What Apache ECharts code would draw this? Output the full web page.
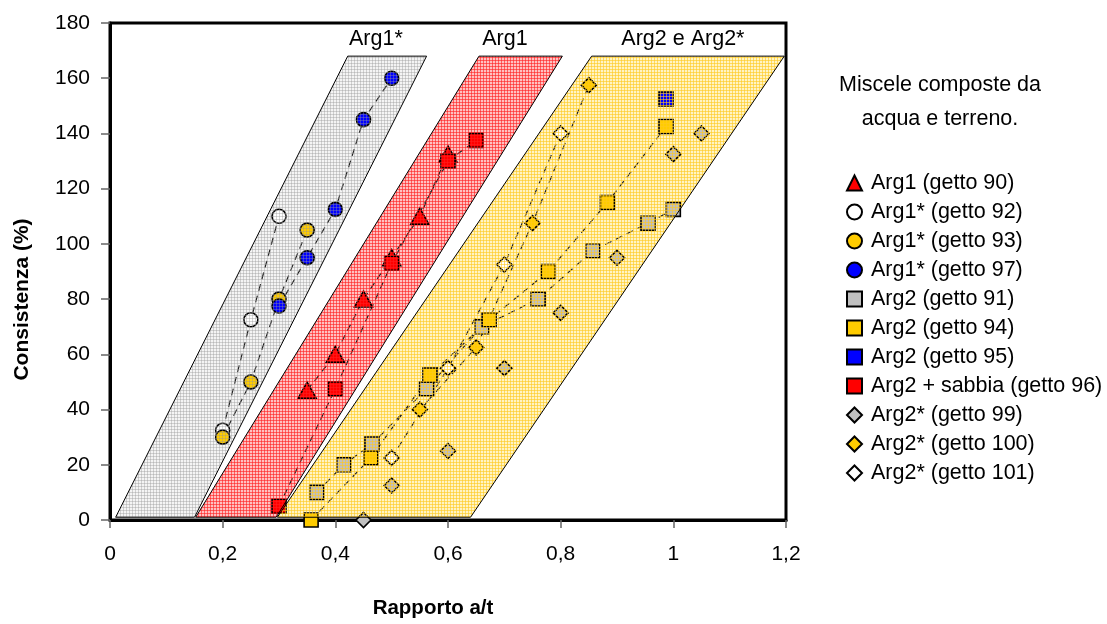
<!DOCTYPE html>
<html>
<head>
<meta charset="utf-8">
<title>Consistenza / Rapporto a/t</title>
<script src="https://cdn.jsdelivr.net/npm/echarts@6/dist/echarts.min.js"></script>
<style>
  html, body { margin: 0; padding: 0; background: #fff; }
  #chart { width: 1107px; height: 624px; }
</style>
</head>
<body>
<div id="chart"></div>
<script>
// ---- measured points: [rapporto a/t, consistenza %] ----
const arg1_g90    = [[0.35, 47], [0.40, 60], [0.45, 80], [0.50, 95], [0.55, 110], [0.60, 132.5]];
const arg1s_g92   = [[0.20, 32.5], [0.25, 72.5], [0.30, 110]];
const arg1s_g93   = [[0.20, 30], [0.25, 50], [0.30, 80], [0.35, 105]];
const arg1s_g97   = [[0.30, 77.5], [0.35, 95], [0.40, 112.5], [0.45, 145], [0.50, 160]];
const arg2_g91    = [[0.367, 10], [0.415, 20], [0.465, 27.5], [0.562, 47.5], [0.66, 70], [0.76, 80], [0.857, 97.5], [0.955, 107.5], [1.0, 112.5]];
const arg2_g94    = [[0.357, 0], [0.463, 22.5], [0.568, 52.5], [0.673, 72.5], [0.778, 90], [0.883, 115], [0.987, 142.5]];
const arg2_g95    = [[0.987, 152.5]];
const arg2sab_g96 = [[0.30, 5], [0.40, 47.5], [0.50, 93], [0.60, 130], [0.65, 137.5]];
const arg2s_g99   = [[0.45, 0], [0.50, 12.5], [0.60, 25], [0.70, 55], [0.80, 75], [0.90, 95], [1.00, 132.5], [1.05, 140]];
const arg2s_g100  = [[0.55, 40], [0.65, 62.5], [0.75, 107.5], [0.85, 157.5]];
const arg2s_g101  = [[0.50, 22.5], [0.60, 55], [0.70, 92.5], [0.80, 140]];

// ---- soil class bands (corners of each parallelogram) ----
const zoneArg1s = [[0.010, 1], [0.150, 1], [0.562, 168], [0.422, 168]];
const zoneArg1  = [[0.152, 1], [0.295, 1], [0.803, 168], [0.655, 168]];
const zoneArg2  = [[0.297, 1], [0.640, 1], [1.197, 168], [0.855, 168]];
const zoneTitles   = ['Arg1*', 'Arg1', 'Arg2 e Arg2*'];
const zoneTitlePos = [[0.472, 174], [0.701, 174], [1.017, 174]];

// ---- axes ----
const xTicks = { min: 0, max: 1.2, step: 0.2 };
const yTicks = { min: 0, max: 180, step: 20 };
const legendHeader = ['Miscele composte da', 'acqua e terreno.'];

// ---- fonts: condensed face when available ----
function hasFont(name) {
  const ctx = document.createElement('canvas').getContext('2d');
  const s = 'abcdefghijklmnopqrstuvwxyzABCDEFGH0123456789';
  ctx.font = '40px monospace';
  const a = ctx.measureText(s).width;
  ctx.font = '40px "' + name + '", monospace';
  const b = ctx.measureText(s).width;
  return Math.abs(a - b) > 0.5;
}
const narrow = hasFont('Liberation Sans Narrow');
const FONT = narrow ? '"Liberation Sans Narrow", "Liberation Sans", Arial, sans-serif'
                    : '"Liberation Sans", Arial, sans-serif';
const SZ_TICK   = narrow ? 25 : 21;
const SZ_LEGEND = narrow ? 26 : 21.5;
const SZ_ZONE   = narrow ? 26 : 21.5;
const SZ_XNAME  = narrow ? 25 : 20.5;
const YNAME_FONT = '"Liberation Sans", Arial, sans-serif';

// ---- fill patterns ----
function gridTile(bg, line) {
  const c = document.createElement('canvas');
  c.width = 3; c.height = 3;
  const g = c.getContext('2d');
  if (bg) { g.fillStyle = bg; g.fillRect(0, 0, 3, 3); }
  g.fillStyle = line;
  g.fillRect(0, 0, 3, 1);
  g.fillRect(0, 0, 1, 3);
  return { image: c, repeat: 'repeat' };
}

const zones = [
  { pts: zoneArg1s, base: '#f4f4f4', line: 'rgba(150,150,150,0.38)' },
  { pts: zoneArg1,  base: '#ffc0c0', line: 'rgba(255,30,30,0.6)' },
  { pts: zoneArg2,  base: '#fff4c4', line: 'rgba(255,200,30,0.6)' }
];

function zoneLayer(zone, fill, stroke, z) {
  return {
    type: 'custom', silent: true, z: z,
    data: zone.pts,
    renderItem: function (params, api) {
      if (params.dataIndex !== 0) return null;
      const pts = zone.pts.map(function (p) { return api.coord(p); });
      return {
        type: 'polygon',
        shape: { points: pts },
        style: { fill: fill, stroke: stroke, lineWidth: 1 }
      };
    }
  };
}

// ---- marker series ----
const groups = [
  { name: 'Arg1 (getto 90)',            data: arg1_g90,    symbol: 'triangle', size: [18, 16], color: '#ff0000', line: true },
  { name: 'Arg1* (getto 92)',           data: arg1s_g92,   symbol: 'circle',   size: 14, color: '#ffffff', line: true },
  { name: 'Arg1* (getto 93)',           data: arg1s_g93,   symbol: 'circle',   size: 14, color: '#ffcc00', line: true },
  { name: 'Arg1* (getto 97)',           data: arg1s_g97,   symbol: 'circle',   size: 14, color: '#0000ff', line: true },
  { name: 'Arg2 (getto 91)',            data: arg2_g91,    symbol: 'rect',     size: 14, color: '#c0c0c0', line: true },
  { name: 'Arg2 (getto 94)',            data: arg2_g94,    symbol: 'rect',     size: 14, color: '#ffcc00', line: true },
  { name: 'Arg2 (getto 95)',            data: arg2_g95,    symbol: 'rect',     size: 14, color: '#0000ff', line: false },
  { name: 'Arg2 + sabbia (getto 96)',   data: arg2sab_g96, symbol: 'rect',     size: 14, color: '#ff0000', line: true },
  { name: 'Arg2* (getto 99)',           data: arg2s_g99,   symbol: 'diamond',  size: 15, color: '#c0c0c0', line: false },
  { name: 'Arg2* (getto 100)',          data: arg2s_g100,  symbol: 'diamond',  size: 15, color: '#ffcc00', line: true },
  { name: 'Arg2* (getto 101)',          data: arg2s_g101,  symbol: 'diamond',  size: 15, color: '#ffffff', line: true }
];

const series = [];
zones.forEach(function (zn) { series.push(zoneLayer(zn, zn.base, null, 1)); });
groups.forEach(function (g, i) {
  if (g.line) {
    series.push({
      type: 'line', name: '_trend' + i, data: g.data, symbol: 'none', silent: true, z: 2,
      lineStyle: { color: '#222', width: 1.2, type: [7, 5] }
    });
  }
});
groups.forEach(function (g) {
  series.push({
    type: 'scatter', name: g.name, data: g.data, symbol: g.symbol, symbolSize: g.size, z: 3,
    itemStyle: { color: g.color, borderColor: '#000', borderWidth: 1.6, opacity: 1 },
    emphasis: { disabled: true }
  });
});
zones.forEach(function (zn) { series.push(zoneLayer(zn, gridTile(null, zn.line), '#000', 4)); });
series.push({
  type: 'custom', silent: true, z: 5,
  data: zoneTitlePos.map(function (p, i) { return { value: p, name: zoneTitles[i] }; }),
  renderItem: function (params, api) {
    const pt = api.coord([api.value(0), api.value(1)]);
    return {
      type: 'text', x: pt[0], y: pt[1],
      style: {
        text: zoneTitles[params.dataIndex],
        fill: '#000', fontSize: SZ_ZONE, fontFamily: FONT,
        align: 'center', verticalAlign: 'middle',
        textAlign: 'center', textVerticalAlign: 'middle'
      }
    };
  }
});

const fmtDec = function (v) { return String(+(+v).toFixed(1)).replace('.', ','); };

const chart = echarts.init(document.getElementById('chart'), null, { renderer: 'canvas' });
chart.setOption({
  animation: false,
  backgroundColor: '#ffffff',
  grid: { left: 110, right: 321, top: 23, bottom: 103, show: true, borderColor: '#000', borderWidth: 3, backgroundColor: 'transparent' },
  xAxis: {
    type: 'value', min: xTicks.min, max: xTicks.max, interval: xTicks.step,
    name: 'Rapporto a/t', nameLocation: 'middle', nameGap: 78,
    nameTextStyle: { fontSize: SZ_XNAME, fontWeight: 'bold', fontFamily: FONT, color: '#000', padding: [0, 30, 0, 0] },
    axisLine: { show: true, onZero: false, lineStyle: { color: '#000', width: 3 } },
    axisTick: { show: true, inside: false, length: 8, lineStyle: { color: '#666', width: 1.5 } },
    axisLabel: { fontSize: SZ_TICK, fontFamily: FONT, color: '#000', margin: 24, formatter: fmtDec },
    splitLine: { show: false }
  },
  yAxis: {
    type: 'value', min: yTicks.min, max: yTicks.max, interval: yTicks.step,
    name: 'Consistenza (%)', nameLocation: 'middle', nameGap: 77, nameRotate: 90,
    nameTextStyle: { fontSize: 21, fontWeight: 'bold', fontFamily: YNAME_FONT, color: '#000', padding: [0, 56, 0, 0] },
    axisLine: { show: true, onZero: false, lineStyle: { color: '#000', width: 3 } },
    axisTick: { show: true, inside: false, length: 9, lineStyle: { color: '#666', width: 1.5 } },
    axisLabel: { fontSize: SZ_TICK, fontFamily: FONT, color: '#000', margin: 20 },
    splitLine: { show: false }
  },
  legend: {
    orient: 'vertical', left: 846, top: 171, padding: 0,
    itemWidth: 15, itemHeight: 15, itemGap: 5,
    selectedMode: false,
    data: groups.map(function (g) { return { name: g.name, icon: g.symbol }; }),
    itemStyle: { borderColor: '#000', borderWidth: 2 },
    textStyle: { fontSize: SZ_LEGEND, fontFamily: FONT, color: '#000', lineHeight: 24, padding: [0, 0, 0, 4] }
  },
  graphic: [{
    type: 'text', x: 940, y: 102, silent: true,
    style: {
      text: legendHeader.join('\n'), fill: '#000', fontSize: SZ_LEGEND, fontFamily: FONT,
      lineHeight: 34, align: 'center', verticalAlign: 'middle',
      textAlign: 'center', textVerticalAlign: 'middle'
    }
  }],
  series: series
});
</script>
</body>
</html>
